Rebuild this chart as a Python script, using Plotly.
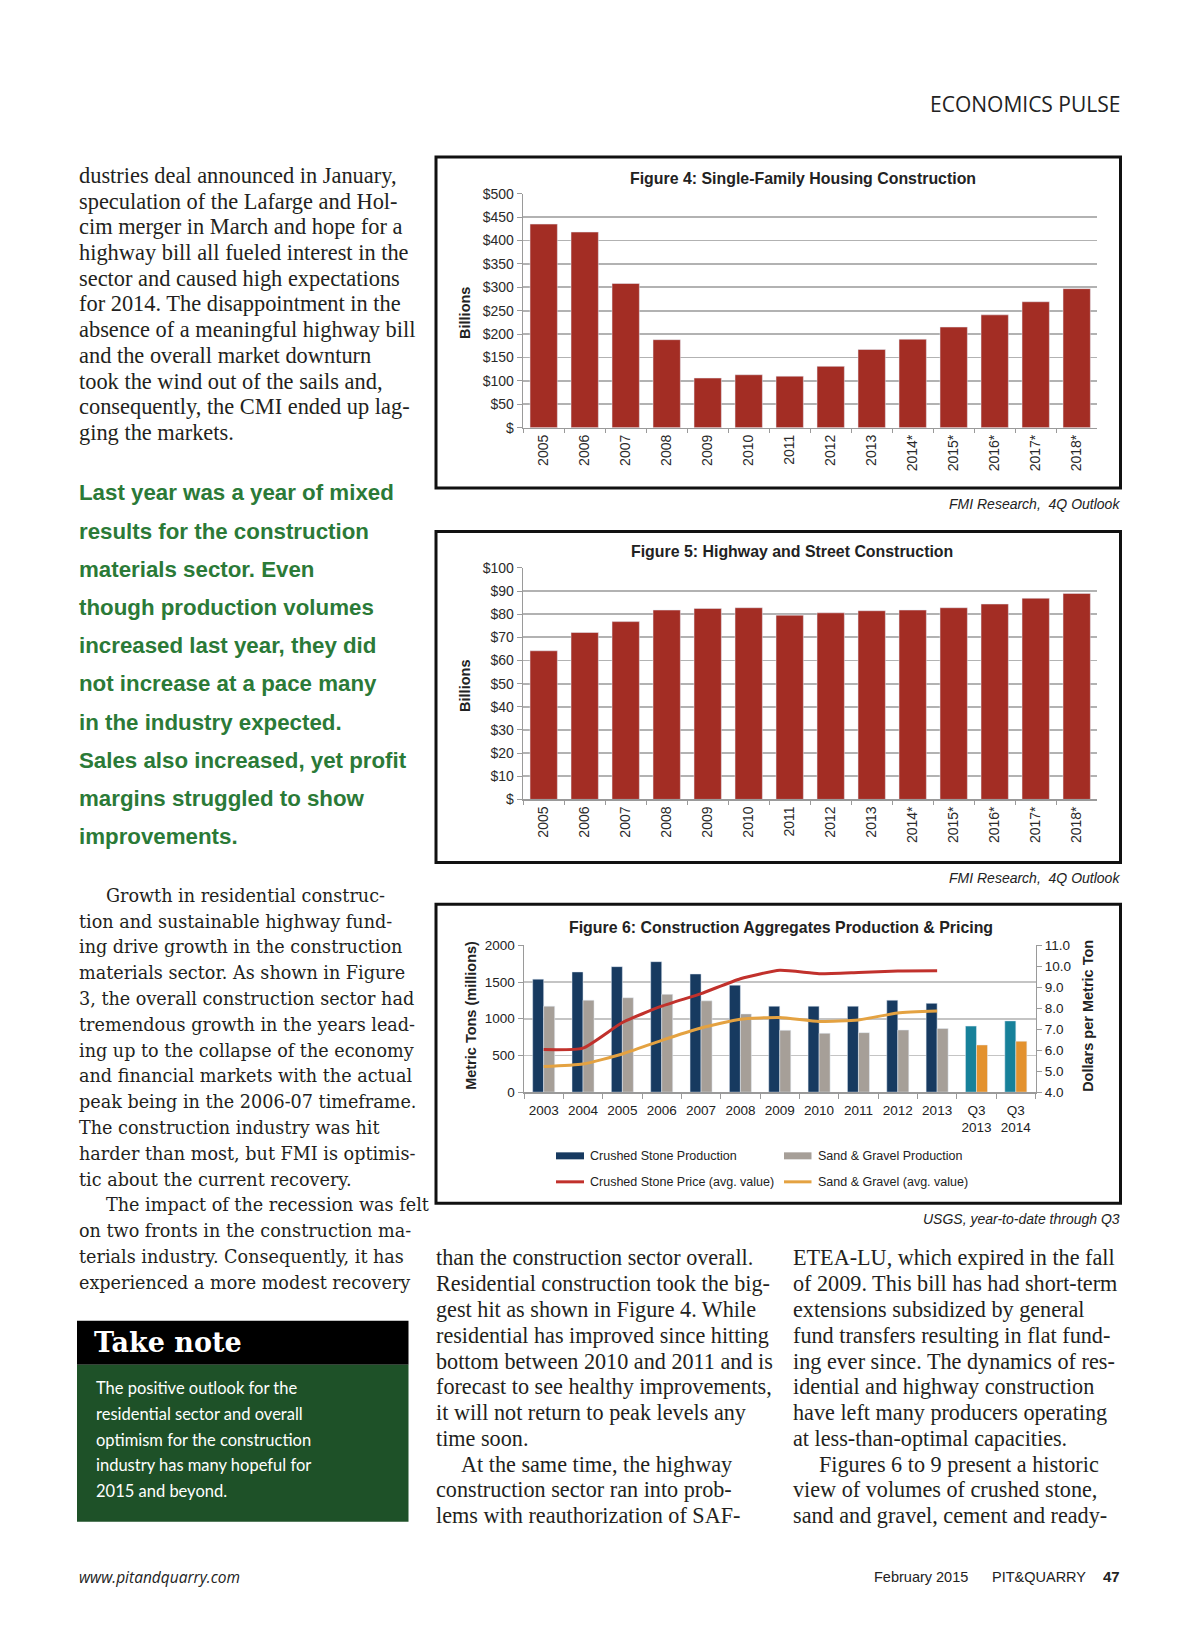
import plotly.graph_objects as go

W, H = 1200, 1626

# ---------------- data ----------------
fig4_years = ["2005", "2006", "2007", "2008", "2009", "2010", "2011", "2012", "2013",
              "2014*", "2015*", "2016*", "2017*", "2018*"]
fig4_values = [435, 418, 308, 188, 106, 113, 110, 131, 167, 189, 215, 241, 269, 297]
fig4_tickvals = [0, 50, 100, 150, 200, 250, 300, 350, 400, 450, 500]
fig4_ticktext = ["$", "$50", "$100", "$150", "$200", "$250", "$300", "$350", "$400", "$450", "$500"]

fig5_years = ["2005", "2006", "2007", "2008", "2009", "2010", "2011", "2012", "2013",
              "2014*", "2015*", "2016*", "2017*", "2018*"]
fig5_values = [64.2, 72.1, 76.8, 81.8, 82.5, 82.8, 79.6, 80.6, 81.5, 81.8, 82.8, 84.4, 86.9, 89.0]
fig5_tickvals = [0, 10, 20, 30, 40, 50, 60, 70, 80, 90, 100]
fig5_ticktext = ["$", "$10", "$20", "$30", "$40", "$50", "$60", "$70", "$80", "$90", "$100"]

fig6_categories = ["2003", "2004", "2005", "2006", "2007", "2008", "2009", "2010", "2011",
                   "2012", "2013", "Q3<br>2013", "Q3<br>2014"]
fig6_crushed_prod = [1540, 1638, 1710, 1778, 1610, 1458, 1171, 1171, 1171, 1253, 1210, 900, 971]
fig6_sand_prod = [1172, 1253, 1287, 1333, 1244, 1066, 843, 802, 811, 847, 868, 643, 694]
fig6_price_years = ["2003", "2004", "2005", "2006", "2007", "2008", "2009", "2010", "2011",
                    "2012", "2013"]
fig6_crushed_price = [6.03, 6.10, 7.32, 8.10, 8.70, 9.41, 9.81, 9.65, 9.71, 9.78, 9.79]
fig6_sand_price = [5.22, 5.34, 5.82, 6.47, 7.06, 7.48, 7.56, 7.37, 7.44, 7.78, 7.87]
fig6_left_ticks = [0, 500, 1000, 1500, 2000]
fig6_right_ticks = [4, 5, 6, 7, 8, 9, 10, 11]
fig6_right_ticktext = ["4.0", "5.0", "6.0", "7.0", "8.0", "9.0", "10.0", "11.0"]
fig6_series_names = ["Crushed Stone Production", "Sand & Gravel Production",
                     "Crushed Stone Price (avg. value)", "Sand & Gravel (avg. value)"]

# ---------------- page text ----------------
header_text = "ECONOMICS PULSE"
fig_titles = ["Figure 4: Single-Family Housing Construction",
              "Figure 5: Highway and Street Construction",
              "Figure 6: Construction Aggregates Production & Pricing"]
sources = ["FMI Research,  4Q Outlook", "FMI Research,  4Q Outlook", "USGS, year-to-date through Q3"]

top_left_lines = [
    "dustries deal announced in January,",
    "speculation of the Lafarge and Hol-",
    "cim merger in March and hope for a",
    "highway bill all fueled interest in the",
    "sector and caused high expectations",
    "for 2014. The disappointment in the",
    "absence of a meaningful highway bill",
    "and the overall market downturn",
    "took the wind out of the sails and,",
    "consequently, the CMI ended up lag-",
    "ging the markets.",
]
pull_quote_lines = [
    "Last year was a year of mixed",
    "results for the construction",
    "materials sector. Even",
    "though production volumes",
    "increased last year, they did",
    "not increase at a pace many",
    "in the industry expected.",
    "Sales also increased, yet profit",
    "margins struggled to show",
    "improvements.",
]
growth_lines = [
    "Growth in residential construc-",
    "tion and sustainable highway fund-",
    "ing drive growth in the construction",
    "materials sector. As shown in Figure",
    "3, the overall construction sector had",
    "tremendous growth in the years lead-",
    "ing up to the collapse of the economy",
    "and financial markets with the actual",
    "peak being in the 2006-07 timeframe.",
    "The construction industry was hit",
    "harder than most, but FMI is optimis-",
    "tic about the current recovery.",
    "The impact of the recession was felt",
    "on two fronts in the construction ma-",
    "terials industry. Consequently, it has",
    "experienced a more modest recovery",
]
growth_indented = [0, 12]
take_note_title = "Take note"
take_note_lines = [
    "The positive outlook for the",
    "residential sector and overall",
    "optimism for the construction",
    "industry has many hopeful for",
    "2015 and beyond.",
]
middle_lines = [
    "than the construction sector overall.",
    "Residential construction took the big-",
    "gest hit as shown in Figure 4. While",
    "residential has improved since hitting",
    "bottom between 2010 and 2011 and is",
    "forecast to see healthy improvements,",
    "it will not return to peak levels any",
    "time soon.",
    "At the same time, the highway",
    "construction sector ran into prob-",
    "lems with reauthorization of SAF-",
]
middle_indented = [8]
right_lines = [
    "ETEA-LU, which expired in the fall",
    "of 2009. This bill has had short-term",
    "extensions subsidized by general",
    "fund transfers resulting in flat fund-",
    "ing ever since. The dynamics of res-",
    "idential and highway construction",
    "have left many producers operating",
    "at less-than-optimal capacities.",
    "Figures 6 to 9 present a historic",
    "view of volumes of crushed stone,",
    "sand and gravel, cement and ready-",
]
right_indented = [8]
footer_left = "www.pitandquarry.com"
footer_parts = ["February 2015", "PIT&amp;QUARRY", "47"]

# ---------------- styles ----------------
SERIF = "Liberation Serif, Times New Roman, serif"
WSERIF = "DejaVu Serif, Georgia, serif"
SANS = "Liberation Sans, Arial, sans-serif"
INK = "#231f20"
BAR_RED = "#a32d24"
AXIS_GREY = "#9a9a9a"
GRID_GREY = "#b2b2b2"
NAVY = "#173a60"
TEAL = "#17819a"
GRAVEL = "#a69f98"
ORANGE_BAR = "#e3922f"
RED_LINE = "#c1312c"
ORANGE_LINE = "#e4a241"
GREEN_TEXT = "#2b7a37"
GREEN_BOX = "#1e5128"

# vertical calibration of the page photograph (measured: shown_y = 8 + 0.9903 * page_y)
Y_OFF, Y_SCALE = 8.0, 0.9903

fig = go.Figure()


def px_x(x):
    return x / W


def px_y(y):
    return 1 - ((y - Y_OFF) / Y_SCALE) / H


def txt(x, y, s, size, family, color=INK, anchor="left", italic=False, bold=False, angle=0):
    fig.add_annotation(
        x=px_x(x), y=px_y(y), xref="paper", yref="paper", text=s, showarrow=False,
        xanchor=anchor, yanchor="middle", textangle=angle,
        font=dict(size=size, family=family, color=color,
                  style="italic" if italic else "normal",
                  weight="bold" if bold else "normal"),
    )


def rect(x0, y0, x1, y1, fill=None, line_color=None, line_width=0, layer="below"):
    fig.add_shape(
        type="rect", xref="paper", yref="paper",
        x0=px_x(x0), x1=px_x(x1), y0=px_y(y1), y1=px_y(y0),
        fillcolor=fill if fill else "rgba(0,0,0,0)",
        line=dict(color=line_color if line_color else "rgba(0,0,0,0)", width=line_width),
        layer=layer,
    )


def hline(x0, x1, y, color, width):
    fig.add_shape(type="line", xref="paper", yref="paper",
                  x0=px_x(x0), x1=px_x(x1), y0=px_y(y), y1=px_y(y),
                  line=dict(color=color, width=width))


# ---------------- traces ----------------
fig.add_trace(go.Bar(x=fig4_years, y=fig4_values, marker_color=BAR_RED, width=0.667,
                     xaxis="x", yaxis="y", name="Figure 4"))
fig.add_trace(go.Bar(x=fig5_years, y=fig5_values, marker_color=BAR_RED, width=0.667,
                     xaxis="x2", yaxis="y2", name="Figure 5"))

crushed_colors = [NAVY] * (len(fig6_categories) - 2) + [TEAL, TEAL]
sand_colors = [GRAVEL] * (len(fig6_categories) - 2) + [ORANGE_BAR, ORANGE_BAR]
fig.add_trace(go.Bar(x=fig6_categories, y=fig6_crushed_prod, marker_color=crushed_colors,
                     width=0.28, offset=-0.28, xaxis="x3", yaxis="y3",
                     name=fig6_series_names[0]))
fig.add_trace(go.Bar(x=fig6_categories, y=fig6_sand_prod, marker_color=sand_colors,
                     width=0.28, offset=0.0, xaxis="x3", yaxis="y3",
                     name=fig6_series_names[1]))
fig.add_trace(go.Scatter(x=fig6_price_years, y=fig6_crushed_price, mode="lines",
                         line=dict(color=RED_LINE, width=3, shape="spline", smoothing=0.5),
                         xaxis="x3", yaxis="y4", name=fig6_series_names[2]))
fig.add_trace(go.Scatter(x=fig6_price_years, y=fig6_sand_price, mode="lines",
                         line=dict(color=ORANGE_LINE, width=3, shape="spline", smoothing=0.5),
                         xaxis="x3", yaxis="y4", name=fig6_series_names[3]))

# ---------------- axes ----------------
bar_x_common = dict(type="category", showline=True, linecolor=AXIS_GREY, linewidth=1.5,
                    ticks="outside", tickson="boundaries", ticklen=4, tickcolor=AXIS_GREY,
                    tickangle=-90, tickfont=dict(size=14, family=SANS, color="#2a2a2a"),
                    showgrid=False, fixedrange=True)
bar_y_common = dict(showline=True, linecolor=AXIS_GREY, linewidth=1.5, ticks="outside",
                    ticklen=5, tickcolor=AXIS_GREY, gridcolor=GRID_GREY, gridwidth=1.8,
                    zeroline=False, tickfont=dict(size=14, family=SANS, color="#2a2a2a"),
                    fixedrange=True)

fig.update_layout(
    width=W, height=H, autosize=False,
    margin=dict(l=0, r=0, t=0, b=0, pad=0),
    paper_bgcolor="white", plot_bgcolor="white",
    showlegend=False, barmode="group",
    xaxis=dict(domain=[523.2 / W, 1097.2 / W], anchor="y", **bar_x_common),
    yaxis=dict(domain=[px_y(427.7), px_y(193.7)], anchor="x", range=[0, 500],
               tickvals=fig4_tickvals, ticktext=fig4_ticktext, **bar_y_common),
    xaxis2=dict(domain=[523.2 / W, 1097.2 / W], anchor="y2", **bar_x_common),
    yaxis2=dict(domain=[px_y(799.5), px_y(568)], anchor="x2", range=[0, 100],
                tickvals=fig5_tickvals, ticktext=fig5_ticktext, **bar_y_common),
    xaxis3=dict(domain=[524 / W, 1035.5 / W], anchor="y3", type="category",
                showline=True, linecolor=AXIS_GREY, linewidth=1.5, ticks="outside",
                tickson="boundaries", ticklen=5, tickcolor=AXIS_GREY, tickangle=0,
                ticklabelstandoff=5,
                tickfont=dict(size=13.5, family=SANS, color="#222"),
                showgrid=False, fixedrange=True),
    yaxis3=dict(domain=[px_y(1092.3), px_y(945.5)], anchor="x3", range=[0, 2000],
                tickvals=fig6_left_ticks, showline=True, linecolor=AXIS_GREY, linewidth=1.5,
                ticks="outside", ticklen=5, tickcolor=AXIS_GREY, gridcolor="#c4c4c4",
                gridwidth=1.5, zeroline=False,
                tickfont=dict(size=13.5, family=SANS, color="#222"), fixedrange=True),
    yaxis4=dict(overlaying="y3", side="right", anchor="x3", range=[4, 11],
                tickvals=fig6_right_ticks, ticktext=fig6_right_ticktext,
                showline=True, linecolor=AXIS_GREY, linewidth=1.5, ticks="outside",
                ticklen=5, tickcolor=AXIS_GREY, showgrid=False, zeroline=False,
                tickfont=dict(size=13.5, family=SANS, color="#222"), fixedrange=True),
)

# ---------------- chart frames & titles ----------------
rect(436, 157, 1120.5, 488, line_color="#111", line_width=3, layer="above")
rect(436, 531.5, 1120.5, 862.5, line_color="#111", line_width=3, layer="above")
rect(436, 904.5, 1120.5, 1203.5, line_color="#111", line_width=3, layer="above")

txt(803, 178.5, fig_titles[0], 15.9, SANS, color="#222", anchor="center", bold=True)
txt(792, 552, fig_titles[1], 15.9, SANS, color="#222", anchor="center", bold=True)
txt(781, 928, fig_titles[2], 15.9, SANS, color="#222", anchor="center", bold=True)

txt(465, 313, "Billions", 14.5, SANS, color="#222", anchor="center", bold=True, angle=-90)
txt(465, 686, "Billions", 14.5, SANS, color="#222", anchor="center", bold=True, angle=-90)
txt(471, 1016, "Metric Tons (millions)", 14.5, SANS, color="#222", anchor="center",
    bold=True, angle=-90)
txt(1088, 1016, "Dollars per Metric Ton", 14.5, SANS, color="#222", anchor="center",
    bold=True, angle=-90)

# manual legend for figure 6
rect(556, 1152.5, 584, 1159.5, fill=NAVY, layer="above")
rect(784, 1152.5, 811.5, 1159.5, fill=GRAVEL, layer="above")
hline(556, 584, 1182, RED_LINE, 3)
hline(784, 811.5, 1182, ORANGE_LINE, 3)
txt(588, 1156, fig6_series_names[0], 12.5, SANS, color="#222")
txt(815.5, 1156, fig6_series_names[1], 12.5, SANS, color="#222")
txt(588, 1182, fig6_series_names[2], 12.5, SANS, color="#222")
txt(815.5, 1182, fig6_series_names[3], 12.5, SANS, color="#222")

# sources
txt(1122, 504, sources[0], 14, SANS, color="#222", anchor="right", italic=True)
txt(1122, 878.5, sources[1], 14, SANS, color="#222", anchor="right", italic=True)
txt(1122, 1219.5, sources[2], 14, SANS, color="#222", anchor="right", italic=True)

# ---------------- page text ----------------
txt(1122, 104, header_text, 21, "Open Sans, sans-serif", color="#222", anchor="right")

for i, line in enumerate(top_left_lines):
    txt(77, 175.5 + i * 25.7, line, 22.4, SERIF)

for i, line in enumerate(pull_quote_lines):
    txt(77, 493 + i * 38.2, line, 22.3, SANS, color=GREEN_TEXT, bold=True)

for i, line in enumerate(growth_lines):
    x = 104 if i in growth_indented else 77
    txt(x, 896 + i * 25.8, line, 17.6, WSERIF)

rect(77, 1321, 408.5, 1365, fill="#000000")
rect(77, 1365, 408.5, 1522, fill=GREEN_BOX)
txt(92, 1343, take_note_title, 27, WSERIF, color="white", bold=True)
for i, line in enumerate(take_note_lines):
    txt(94, 1388.5 + i * 25.7, line, 16.5, "Lato, Open Sans, sans-serif", color="white")

for i, line in enumerate(middle_lines):
    x = 459 if i in middle_indented else 434
    txt(x, 1258 + i * 25.8, line, 22.2, SERIF)

for i, line in enumerate(right_lines):
    x = 817 if i in right_indented else 791
    txt(x, 1258 + i * 25.8, line, 22.2, SERIF)

txt(77, 1577, footer_left, 15.5, "Open Sans, sans-serif", color="#222", italic=True)
txt(970, 1577, footer_parts[0], 14.5, SANS, color="#222", anchor="right")
txt(1088, 1577, footer_parts[1], 14.5, SANS, color="#222", anchor="right")
txt(1122, 1577, footer_parts[2], 15, SANS, color="#222", anchor="right", bold=True)

fig.write_html(
    "out.html",
    config={"displayModeBar": False, "staticPlot": True},
    post_script=(
        "var h=document.documentElement, b=document.body;"
        "h.style.margin='0'; h.style.padding='0'; h.style.overflow='hidden';"
        "b.style.margin='0'; b.style.padding='0'; b.style.overflow='hidden';"
    ),
)
